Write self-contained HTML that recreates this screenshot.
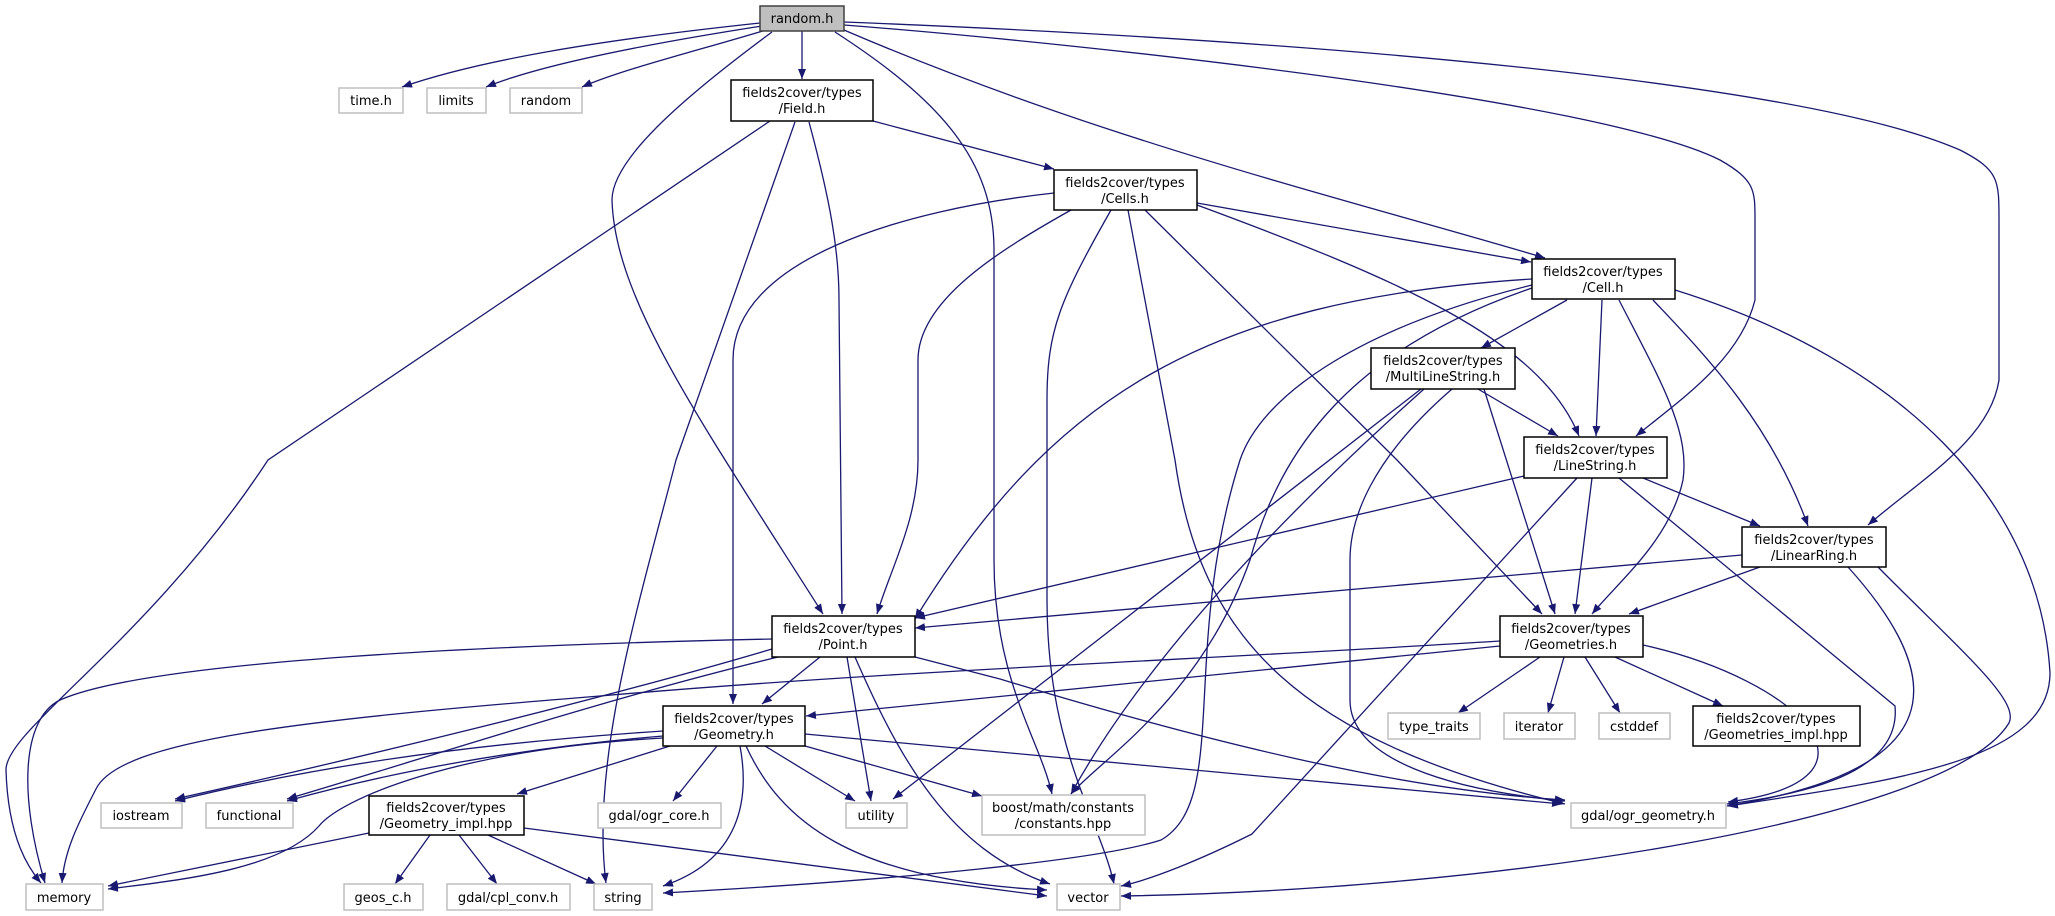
<!DOCTYPE html>
<html><head><meta charset="utf-8"><style>
html,body{margin:0;padding:0;background:#fff;}
svg{display:block;}
text{font-family:"DejaVu Sans","Liberation Sans",sans-serif;font-size:13px;fill:#000;text-anchor:middle;}
.e{fill:none;stroke:#191970;stroke-width:1.3;marker-end:url(#a);}
.n{fill:#fff;stroke:#000;stroke-width:1.5;}
.x{fill:#fff;stroke:#bfbfbf;stroke-width:1.5;}
</style></head><body>
<svg width="2055" height="916" viewBox="0 0 2055 916" xmlns="http://www.w3.org/2000/svg">
<defs><marker id="a" markerUnits="userSpaceOnUse" markerWidth="11" markerHeight="8" refX="10" refY="4" orient="auto"><path d="M0,0 L10,4 L0,8 z" fill="#191970"/></marker></defs>

<!-- edges from random.h -->
<path class="e" d="M760,23 C600,40 480,60 402,87"/>
<path class="e" d="M762,26 C640,45 540,65 486,87"/>
<path class="e" d="M766,30 C700,50 620,70 582,87"/>
<path class="e" d="M802,31 L802,79"/>
<path class="e" d="M772,32 C680,100 612,160 612,200 C615,300 700,420 823,614"/>
<path class="e" d="M835,32 C940,100 994,160 994,250 L994,560 C994,680 1040,740 1052,794"/>
<path class="e" d="M844,30 C1100,140 1350,200 1545,258"/>
<path class="e" d="M844,25 C1100,45 1600,100 1720,160 C1755,180 1755,190 1755,220 L1755,300 C1740,360 1680,400 1636,436"/>
<path class="e" d="M844,22 C1300,40 1800,80 1960,150 C1999,170 1999,180 1999,220 L1999,380 C1990,440 1920,480 1868,525"/>

<!-- Field.h -->
<path class="e" d="M770,121 L268,460 C150,640 5,730 6,770 C8,840 30,870 41,883"/>
<path class="e" d="M795,122 L676,460 C640,600 590,760 606,883"/>
<path class="e" d="M809,122 C830,200 839,250 839,300 L842,614"/>
<path class="e" d="M873,121 L1054,169"/>

<!-- Cells.h -->
<path class="e" d="M1054,193 C900,210 733,260 733,360 L733,704"/>
<path class="e" d="M1071,210 C1000,250 918,300 918,360 L918,460 C918,520 890,570 877,614"/>
<path class="e" d="M1111,210 C1060,300 1047,330 1047,400 L1047,600 C1047,750 1100,820 1114,884"/>
<path class="e" d="M1128,210 L1175,460 C1200,640 1300,740 1565,804"/>
<path class="e" d="M1145,210 L1397,460 L1542,614"/>
<path class="e" d="M1197,203 L1531,262"/>
<path class="e" d="M1197,205 C1400,280 1540,340 1579,436"/>

<!-- Cell.h -->
<path class="e" d="M1532,279 C1200,300 1050,400 915,619"/>
<path class="e" d="M1532,285 C1350,330 1260,400 1240,460 C1180,650 1230,800 1161,840 C1100,860 900,880 663,893"/>
<path class="e" d="M1532,288 C1350,350 1280,450 1250,560 C1200,700 1100,760 1071,794"/>
<path class="e" d="M1567,300 L1481,348"/>
<path class="e" d="M1602,300 L1596,436"/>
<path class="e" d="M1619,300 C1660,380 1690,430 1683,480 C1670,540 1620,580 1592,614"/>
<path class="e" d="M1653,300 C1700,350 1770,420 1808,526"/>
<path class="e" d="M1675,290 C1900,360 2040,500 2050,673 C2050,760 1900,780 1728,806"/>

<!-- MultiLineString.h -->
<path class="e" d="M1421,389 L893,799"/>
<path class="e" d="M1424,389 C1300,500 1150,650 1071,794"/>
<path class="e" d="M1452,389 C1370,460 1350,520 1350,560 L1350,700 C1350,760 1450,790 1565,801"/>
<path class="e" d="M1478,389 L1558,436"/>
<path class="e" d="M1484,389 L1555,614"/>

<!-- LineString.h -->
<path class="e" d="M1524,476 L915,618"/>
<path class="e" d="M1577,478 L1252,834 C1200,860 1150,880 1121,886"/>
<path class="e" d="M1592,478 L1575,614"/>
<path class="e" d="M1619,478 L1895,706 C1900,760 1840,790 1727,804"/>
<path class="e" d="M1643,478 L1760,526"/>

<!-- LinearRing.h -->
<path class="e" d="M1742,555 L915,628"/>
<path class="e" d="M1760,567 L1629,614"/>
<path class="e" d="M1848,567 C1950,680 1950,770 1727,806"/>
<path class="e" d="M1878,567 C1960,650 2020,700 2009,723 C1950,820 1500,890 1121,896"/>

<!-- Geometries.h -->
<path class="e" d="M1500,641 C1200,660 900,670 600,696 C300,720 120,740 96,789 C80,820 64,850 62,883"/>
<path class="e" d="M1500,646 L806,716"/>
<path class="e" d="M1540,657 L1458,713"/>
<path class="e" d="M1564,657 L1548,713"/>
<path class="e" d="M1585,657 L1620,713"/>
<path class="e" d="M1615,657 L1723,706"/>
<path class="e" d="M1643,645 C1800,680 1900,780 1728,802"/>

<!-- Point.h -->
<path class="e" d="M772,639 C500,645 150,660 60,700 C20,720 20,800 45,883"/>
<path class="e" d="M772,649 C600,700 350,760 175,799"/>
<path class="e" d="M778,657 C600,700 420,760 287,799"/>
<path class="e" d="M820,657 L762,704"/>
<path class="e" d="M847,657 L871,801"/>
<path class="e" d="M855,657 C900,760 950,850 1050,884"/>
<path class="e" d="M915,657 L1000,679 C1200,740 1400,790 1565,800"/>

<!-- Geometry.h -->
<path class="e" d="M663,731 C450,745 300,770 175,801"/>
<path class="e" d="M663,736 C500,750 380,775 287,801"/>
<path class="e" d="M663,738 C450,750 340,800 319,826 C280,870 180,880 108,889"/>
<path class="e" d="M670,746 L517,794"/>
<path class="e" d="M717,746 L673,801"/>
<path class="e" d="M740,746 C750,800 740,860 663,886"/>
<path class="e" d="M746,746 C780,820 850,880 1047,890"/>
<path class="e" d="M765,746 L855,801"/>
<path class="e" d="M805,746 L982,796"/>
<path class="e" d="M805,734 L1562,804"/>

<!-- Geometry_impl.hpp -->
<path class="e" d="M369,833 L108,886"/>
<path class="e" d="M430,835 L395,884"/>
<path class="e" d="M459,835 L497,884"/>
<path class="e" d="M488,835 L596,884"/>
<path class="e" d="M524,828 L1047,896"/>

<!-- nodes -->
<rect x="760" y="6" width="84" height="25" fill="#bfbfbf" stroke="#404040" stroke-width="1.5"/>
<text x="802" y="23">random.h</text>

<rect class="x" x="339" y="88" width="64" height="25"/><text x="371" y="105">time.h</text>
<rect class="x" x="427" y="88" width="59" height="25"/><text x="456" y="105">limits</text>
<rect class="x" x="510" y="88" width="72" height="25"/><text x="546" y="105">random</text>

<rect class="n" x="731" y="80" width="142" height="41"/><text x="802" y="97">fields2cover/types</text><text x="802" y="113">/Field.h</text>
<rect class="n" x="1054" y="170" width="143" height="40"/><text x="1125" y="187">fields2cover/types</text><text x="1125" y="203">/Cells.h</text>
<rect class="n" x="1532" y="259" width="143" height="40"/><text x="1603" y="276">fields2cover/types</text><text x="1603" y="292">/Cell.h</text>
<rect class="n" x="1371" y="348" width="144" height="41"/><text x="1443" y="365">fields2cover/types</text><text x="1443" y="381">/MultiLineString.h</text>
<rect class="n" x="1524" y="437" width="143" height="41"/><text x="1595" y="454">fields2cover/types</text><text x="1595" y="470">/LineString.h</text>
<rect class="n" x="1742" y="527" width="144" height="40"/><text x="1814" y="544">fields2cover/types</text><text x="1814" y="560">/LinearRing.h</text>
<rect class="n" x="772" y="616" width="143" height="41"/><text x="843" y="633">fields2cover/types</text><text x="843" y="649">/Point.h</text>
<rect class="n" x="1500" y="616" width="143" height="41"/><text x="1571" y="633">fields2cover/types</text><text x="1571" y="649">/Geometries.h</text>
<rect class="n" x="663" y="706" width="142" height="40"/><text x="734" y="723">fields2cover/types</text><text x="734" y="739">/Geometry.h</text>
<rect class="n" x="1693" y="706" width="167" height="40"/><text x="1776" y="723">fields2cover/types</text><text x="1776" y="739">/Geometries_impl.hpp</text>
<rect class="n" x="369" y="796" width="155" height="39"/><text x="446" y="812">fields2cover/types</text><text x="446" y="828">/Geometry_impl.hpp</text>

<rect class="x" x="1388" y="713" width="92" height="26"/><text x="1434" y="731">type_traits</text>
<rect class="x" x="1504" y="713" width="71" height="26"/><text x="1539" y="731">iterator</text>
<rect class="x" x="1599" y="713" width="71" height="26"/><text x="1634" y="731">cstddef</text>

<rect class="x" x="101" y="803" width="81" height="25"/><text x="141" y="820">iostream</text>
<rect class="x" x="206" y="803" width="87" height="25"/><text x="249" y="820">functional</text>
<rect class="x" x="598" y="803" width="123" height="25"/><text x="659" y="820">gdal/ogr_core.h</text>
<rect class="x" x="846" y="803" width="61" height="25"/><text x="876" y="820">utility</text>
<rect class="x" x="982" y="795" width="163" height="40"/><text x="1063" y="812">boost/math/constants</text><text x="1063" y="828">/constants.hpp</text>
<rect class="x" x="1571" y="803" width="155" height="25"/><text x="1648" y="820">gdal/ogr_geometry.h</text>

<rect class="x" x="26" y="884" width="77" height="26"/><text x="64" y="902">memory</text>
<rect class="x" x="344" y="884" width="79" height="26"/><text x="383" y="902">geos_c.h</text>
<rect class="x" x="447" y="884" width="123" height="26"/><text x="508" y="902">gdal/cpl_conv.h</text>
<rect class="x" x="594" y="884" width="58" height="26"/><text x="623" y="902">string</text>
<rect class="x" x="1057" y="884" width="63" height="26"/><text x="1088" y="902">vector</text>
</svg>
</body></html>
